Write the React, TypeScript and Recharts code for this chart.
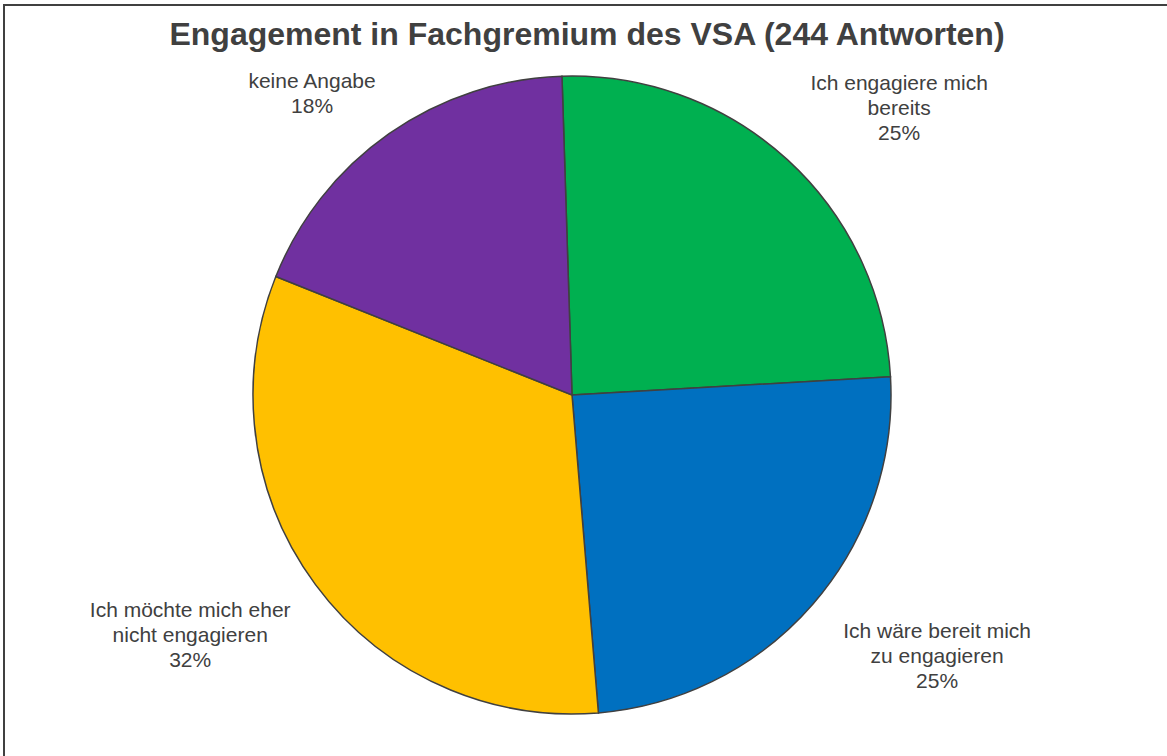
import { PieChart, Pie, Cell } from 'recharts'

const categories = [
  'Ich engagiere mich bereits',
  'Ich wäre bereit mich zu engagieren',
  'Ich möchte mich eher nicht engagieren',
  'keine Angabe',
]
const counts = [60, 60, 79, 45]
const labelLines = [
  ['Ich engagiere mich', 'bereits'],
  ['Ich wäre bereit mich', 'zu engagieren'],
  ['Ich möchte mich eher', 'nicht engagieren'],
  ['keine Angabe'],
]
const colors = ['#00B050', '#0070C0', '#FFC000', '#7030A0']

const total = counts.reduce((a, b) => a + b, 0)
const data = categories.map((name, i) => ({ name, value: counts[i], idx: i }))

const FONT = '"Liberation Sans", Arial, sans-serif'
const TEXT = '#404040'
const LABEL_SIZE = 21
const LINE_H = 25

const RADIAN = Math.PI / 180

function renderLabel(props: any) {
  const { cx, cy, midAngle, outerRadius, index } = props
  const r = outerRadius + 20
  const px = cx + r * Math.cos(-midAngle * RADIAN)
  const py = cy + r * Math.sin(-midAngle * RADIAN)
  const lines = [...labelLines[index], `${Math.round((counts[index] / total) * 100)}%`]
  const maxLen = Math.max(...lines.map((l) => l.length))
  const w = maxLen * 0.52 * LABEL_SIZE
  const h = lines.length * LINE_H
  const centerX = px + Math.sign(Math.cos(-midAngle * RADIAN)) * (w / 2)
  const centerY = py + Math.sign(Math.sin(-midAngle * RADIAN)) * (h / 2)
  const top = centerY - h / 2 + LINE_H / 2
  return (
    <text
      x={centerX}
      y={top}
      textAnchor="middle"
      dominantBaseline="central"
      fill={TEXT}
      fontSize={LABEL_SIZE}
      fontFamily={FONT}
    >
      {lines.map((l, i) => (
        <tspan key={i} x={centerX} y={top + i * LINE_H} dominantBaseline="central">
          {l}
        </tspan>
      ))}
    </text>
  )
}

export default function App() {
  return (
    <div
      style={{
        position: 'fixed',
        left: 0,
        top: 0,
        width: 1167,
        height: 756,
        overflow: 'hidden',
        background: '#fff',
      }}
    >
      <div
        style={{
          position: 'absolute',
          left: 3,
          top: 4,
          width: 1170,
          height: 770,
          border: '2px solid #404040',
          boxSizing: 'border-box',
        }}
      />
      <div style={{ position: 'absolute', left: 0, top: 0 }}>
        <PieChart width={1167} height={756} margin={{ top: 0, right: 0, bottom: 0, left: 0 }}>
          <Pie
            data={data}
            dataKey="value"
            nameKey="name"
            cx={572}
            cy={395}
            outerRadius={319}
            startAngle={91.8}
            endAngle={-268.2}
            stroke="#404040"
            strokeWidth={1.5}
            label={renderLabel}
            labelLine={false}
            isAnimationActive={false}
          >
            {data.map((d) => (
              <Cell key={d.name} fill={colors[d.idx]} />
            ))}
          </Pie>
        </PieChart>
      </div>
      <svg
        width={1167}
        height={60}
        style={{ position: 'absolute', left: 0, top: 0, pointerEvents: 'none' }}
      >
        <text
          x={587}
          y={45}
          textAnchor="middle"
          fill={TEXT}
          fontSize={32}
          fontWeight="bold"
          fontFamily={FONT}
        >
          Engagement in Fachgremium des VSA (244 Antworten)
        </text>
      </svg>
    </div>
  )
}
